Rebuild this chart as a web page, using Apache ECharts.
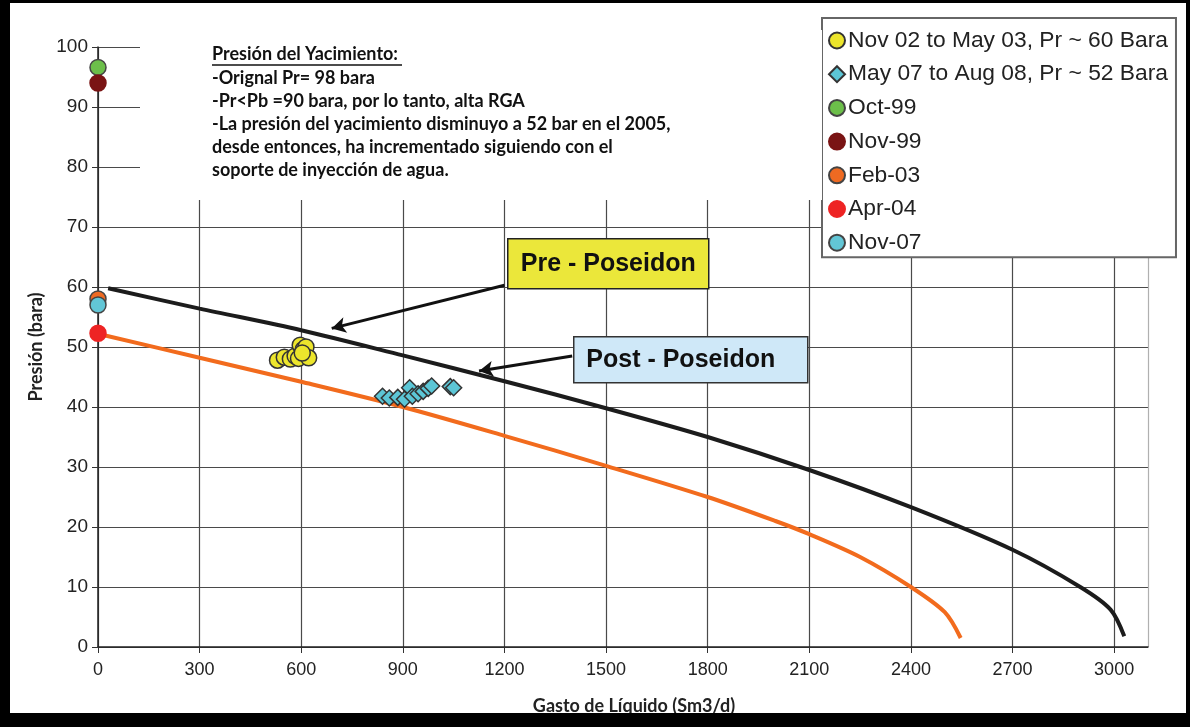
<!DOCTYPE html>
<html>
<head>
<meta charset="utf-8">
<script src="https://cdn.jsdelivr.net/npm/echarts@6/dist/echarts.min.js"></script>
<style>
  html, body { margin: 0; padding: 0; background: #ffffff; }
  #chart { width: 1190px; height: 727px; }
</style>
</head>
<body>
<div id="chart"></div>
<script>
// Well performance: reservoir inflow curves vs. tested production points
const xTicks = [0, 300, 600, 900, 1200, 1500, 1800, 2100, 2400, 2700, 3000];
const yTicks = [0, 10, 20, 30, 40, 50, 60, 70, 80, 90, 100];

// Pre-Poseidon inflow curve (gasto, presión)
const preGasto   = [30, 300, 600, 900, 1200, 1500, 1800, 2100, 2400, 2700, 2900, 2990, 3030];
const prePresion = [59.8, 56.4, 52.8, 48.6, 44.3, 39.8, 35.0, 29.5, 23.3, 16.2, 10.0, 6.2, 1.8];

// Post-Poseidon inflow curve
const postGasto   = [15, 300, 600, 900, 1200, 1500, 1800, 2000, 2100, 2250, 2400, 2500, 2547];
const postPresion = [52.0, 48.2, 44.2, 40.0, 35.2, 30.2, 25.0, 21.0, 18.8, 15.0, 10.0, 5.8, 1.5];

// Nov 02 to May 03 well tests
const nov02Gasto   = [530, 550, 568, 582, 592, 597, 606, 614, 622, 603];
const nov02Presion = [47.8, 48.3, 48.0, 48.5, 48.1, 50.3, 49.6, 50.0, 48.2, 49.0];

// May 07 to Aug 08 well tests
const may07Gasto   = [840, 860, 885, 905, 920, 928, 945, 960, 975, 985, 1040, 1050];
const may07Presion = [41.8, 41.5, 41.6, 41.3, 43.2, 41.8, 42.2, 42.6, 43.1, 43.5, 43.4, 43.2];

// Static reservoir pressure surveys (at zero rate)
const surveyNames  = ['Oct-99', 'Nov-99', 'Feb-03', 'Apr-04', 'Nov-07'];
const surveyGasto  = [0, 0, 0, 0, 0];
const surveyPres   = [96.6, 94.0, 58.0, 52.3, 57.0];
const surveyColors = ['#6cbf4a', '#7a1414', '#ee6a22', '#ee2424', '#62c6d6'];

const labelFont = '"Liberation Sans Narrow", "Arial Narrow", "Liberation Sans", Arial, sans-serif';
const boldFont = 'Lato, "Open Sans", sans-serif';

const pairs = (xs, ys) => xs.map((x, i) => [x, ys[i]]);

const chart = echarts.init(document.getElementById('chart'), null, { renderer: 'canvas' });

const gridColors = xTicks.map(() => '#4a4a4a').concat(['#b0b0b0']);

const series = [
  {
    name: 'Pre',
    type: 'line',
    data: pairs(preGasto, prePresion),
    smooth: 0.3,
    showSymbol: false,
    lineStyle: { color: '#1c1c1c', width: 4 },
    z: 3,
    markLine: {
      silent: true,
      symbol: ['none', 'arrow'],
      symbolSize: [12, 14],
      label: { show: false },
      lineStyle: { color: '#111', width: 3, type: 'solid' },
      data: [
        [{ coord: [1200, 60.3] }, { coord: [690, 53.1] }],
        [{ coord: [1400, 48.5] }, { coord: [1125, 46.0] }]
      ]
    }
  },
  {
    name: 'Post',
    type: 'line',
    data: pairs(postGasto, postPresion),
    smooth: 0.3,
    showSymbol: false,
    lineStyle: { color: '#f26b1d', width: 4 },
    z: 3
  },
  {
    name: 'Nov 02 to May 03, Pr ~ 60 Bara',
    type: 'scatter',
    data: pairs(nov02Gasto, nov02Presion),
    symbol: 'circle',
    symbolSize: 16,
    itemStyle: { color: '#ece52c', borderColor: '#333', borderWidth: 1.5, opacity: 1 },
    z: 5
  },
  {
    name: 'May 07 to Aug 08, Pr ~ 52 Bara',
    type: 'scatter',
    data: pairs(may07Gasto, may07Presion),
    symbol: 'diamond',
    symbolSize: 16,
    itemStyle: { color: '#5cc6d6', borderColor: '#333', borderWidth: 1.5, opacity: 1 },
    z: 5
  }
];

surveyNames.forEach((name, i) => {
  series.push({
    name: name,
    type: 'scatter',
    data: [[surveyGasto[i], surveyPres[i]]],
    symbol: 'circle',
    symbolSize: 16,
    itemStyle: {
      color: surveyColors[i],
      borderColor: i === 1 || i === 3 ? surveyColors[i] : '#444',
      borderWidth: 1.5,
      opacity: 1
    },
    z: 6
  });
});

const option = {
  backgroundColor: '#ffffff',
  animation: false,
  grid: { left: 98, right: 42, top: 47, bottom: 80 },
  xAxis: {
    type: 'value',
    min: 0,
    max: 3100,
    interval: 300,
    name: 'Gasto de Líquido (Sm3/d)',
    nameLocation: 'middle',
    nameGap: 50,
    nameTextStyle: { fontFamily: boldFont, fontWeight: 'bold', fontSize: 18, color: '#222', padding: [0, 0, 0, 22] },
    axisLine: { show: true, onZero: false, lineStyle: { color: '#222', width: 1.5 } },
    axisTick: { show: true, length: 6, lineStyle: { color: '#333' } },
    axisLabel: {
      showMaxLabel: false, margin: 14, fontFamily: labelFont, fontSize: 18, color: '#222',
      formatter: v => String(v)
    },
    splitLine: { show: true, lineStyle: { color: gridColors, width: 1.2 } }
  },
  yAxis: {
    type: 'value',
    min: 0,
    max: 100,
    interval: 10,
    name: 'Presión (bara)',
    nameLocation: 'middle',
    nameGap: 44,
    nameTextStyle: { fontFamily: boldFont, fontWeight: 'bold', fontSize: 18, color: '#222' },
    axisLine: { show: true, onZero: false, lineStyle: { color: '#222', width: 1.5 } },
    axisTick: { show: true, length: 6, lineStyle: { color: '#333' } },
    axisLabel: { margin: 10, fontFamily: labelFont, fontSize: 19, color: '#222' },
    splitLine: { show: true, lineStyle: { color: '#4a4a4a', width: 1.2 } }
  },
  legend: {
    orient: 'vertical',
    left: 822,
    top: 18,
    padding: [11, 8, 3, 6],
    itemGap: 10.7,
    itemWidth: 16,
    itemHeight: 16,
    backgroundColor: '#ffffff',
    borderColor: '#666',
    borderWidth: 2,
    data: ['Nov 02 to May 03, Pr ~ 60 Bara', 'May 07 to Aug 08, Pr ~ 52 Bara'].concat(surveyNames),
    textStyle: { fontFamily: '"Liberation Sans", Arial, sans-serif', fontSize: 22.8, lineHeight: 22.3, color: '#222', padding: [0, 0, 0, -2] },
    selectedMode: false
  },
  series: series,
  graphic: [
    // note panel over the upper plot area
    { type: 'rect', z: 10, shape: { x: 140, y: 30, width: 682, height: 170 }, style: { fill: '#ffffff' } },
    {
      type: 'text', z: 11, left: 212, top: 43,
      style: {
        text: 'Presión del Yacimiento:\n-Orignal Pr= 98 bara\n-Pr<Pb =90 bara, por lo tanto, alta RGA\n-La presión del yacimiento disminuyo a 52 bar en el 2005,\ndesde entonces, ha incrementado siguiendo con el\nsoporte de inyección de agua.',
        font: 'bold 18px ' + boldFont,
        lineHeight: 23.2,
        fill: '#111'
      }
    },
    { type: 'line', z: 11, shape: { x1: 212, y1: 65, x2: 402, y2: 65 }, style: { stroke: '#111', lineWidth: 1.5 } },
    // curve tags
    {
      type: 'group', z: 12, left: 507, top: 238,
      children: [
        { type: 'rect', z: 12, shape: { x: 0, y: 0, width: 201, height: 50 }, style: { fill: '#ebe73a', stroke: '#222', lineWidth: 1.5 } },
        { type: 'text', z: 13, style: { x: 100.5, y: 25, text: 'Pre - Poseidon', font: 'bold 25px "Liberation Sans", Arial, sans-serif', fill: '#111', align: 'center', verticalAlign: 'middle' } }
      ]
    },
    {
      type: 'group', z: 12, left: 573, top: 336,
      children: [
        { type: 'rect', z: 12, shape: { x: 0, y: 0, width: 234, height: 46 }, style: { fill: '#cfe8f8', stroke: '#333', lineWidth: 1.5 } },
        { type: 'text', z: 13, style: { x: 107, y: 23, text: 'Post - Poseidon', font: 'bold 25px "Liberation Sans", Arial, sans-serif', fill: '#111', align: 'center', verticalAlign: 'middle' } }
      ]
    },
    // outer frame
    { type: 'rect', z: 20, shape: { x: 0, y: 0, width: 10, height: 727 }, style: { fill: '#000' } },
    { type: 'rect', z: 20, shape: { x: 0, y: 713, width: 1190, height: 14 }, style: { fill: '#000' } },
    { type: 'rect', z: 20, shape: { x: 0, y: 0, width: 1190, height: 3 }, style: { fill: '#000' } },
    { type: 'rect', z: 20, shape: { x: 1186, y: 0, width: 4, height: 727 }, style: { fill: '#000' } }
  ]
};

chart.setOption(option);
</script>
</body>
</html>
